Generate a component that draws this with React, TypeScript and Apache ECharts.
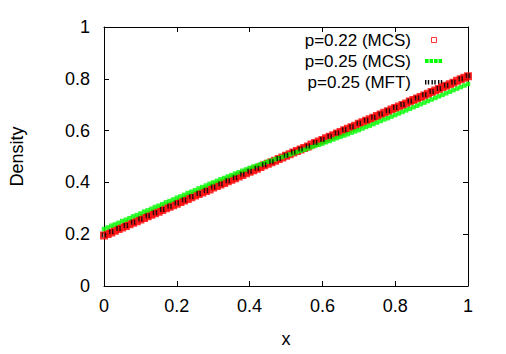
import React, { useEffect, useRef } from "react";
import * as echarts from "echarts";

// x positions (step 0.01) for the MCS curves
const xMCS: number[] = [
  0, 0.01, 0.02, 0.03, 0.04, 0.05, 0.06, 0.07, 0.08, 0.09,
  0.1, 0.11, 0.12, 0.13, 0.14, 0.15, 0.16, 0.17, 0.18, 0.19,
  0.2, 0.21, 0.22, 0.23, 0.24, 0.25, 0.26, 0.27, 0.28, 0.29,
  0.3, 0.31, 0.32, 0.33, 0.34, 0.35, 0.36, 0.37, 0.38, 0.39,
  0.4, 0.41, 0.42, 0.43, 0.44, 0.45, 0.46, 0.47, 0.48, 0.49,
  0.5, 0.51, 0.52, 0.53, 0.54, 0.55, 0.56, 0.57, 0.58, 0.59,
  0.6, 0.61, 0.62, 0.63, 0.64, 0.65, 0.66, 0.67, 0.68, 0.69,
  0.7, 0.71, 0.72, 0.73, 0.74, 0.75, 0.76, 0.77, 0.78, 0.79,
  0.8, 0.81, 0.82, 0.83, 0.84, 0.85, 0.86, 0.87, 0.88, 0.89,
  0.9, 0.91, 0.92, 0.93, 0.94, 0.95, 0.96, 0.97, 0.98, 0.99, 1,
];

// p=0.22 (MCS)
const mcs022: number[] = [
  0.195, 0.201, 0.207, 0.213, 0.22, 0.226, 0.232, 0.238, 0.244, 0.25,
  0.257, 0.263, 0.269, 0.275, 0.281, 0.287, 0.293, 0.3, 0.306, 0.312,
  0.318, 0.324, 0.33, 0.336, 0.343, 0.349, 0.355, 0.361, 0.367, 0.373,
  0.38, 0.386, 0.392, 0.398, 0.404, 0.41, 0.416, 0.423, 0.429, 0.435,
  0.441, 0.447, 0.453, 0.459, 0.466, 0.472, 0.478, 0.484, 0.49, 0.496,
  0.503, 0.509, 0.515, 0.521, 0.527, 0.533, 0.539, 0.546, 0.552, 0.558,
  0.564, 0.57, 0.576, 0.582, 0.589, 0.595, 0.601, 0.607, 0.613, 0.619,
  0.626, 0.632, 0.638, 0.644, 0.65, 0.656, 0.662, 0.669, 0.675, 0.681,
  0.687, 0.693, 0.699, 0.705, 0.712, 0.718, 0.724, 0.73, 0.736, 0.742,
  0.749, 0.755, 0.761, 0.767, 0.773, 0.779, 0.785, 0.792, 0.798, 0.804, 0.81,
];

// p=0.25 (MCS)
const mcs025: number[] = [
  0.22, 0.226, 0.233, 0.238, 0.244, 0.251, 0.256, 0.262, 0.269, 0.274,
  0.28, 0.287, 0.292, 0.298, 0.305, 0.31, 0.316, 0.323, 0.328, 0.334,
  0.341, 0.346, 0.352, 0.359, 0.364, 0.37, 0.377, 0.382, 0.388, 0.395,
  0.4, 0.406, 0.412, 0.417, 0.423, 0.428, 0.434, 0.439, 0.445, 0.45,
  0.456, 0.461, 0.465, 0.47, 0.475, 0.48, 0.484, 0.489, 0.494, 0.498,
  0.503, 0.508, 0.512, 0.517, 0.522, 0.526, 0.531, 0.536, 0.541, 0.545,
  0.55, 0.555, 0.56, 0.566, 0.571, 0.576, 0.581, 0.586, 0.592, 0.597,
  0.602, 0.608, 0.614, 0.619, 0.625, 0.631, 0.637, 0.643, 0.648, 0.654,
  0.66, 0.666, 0.672, 0.678, 0.684, 0.69, 0.696, 0.702, 0.708, 0.714,
  0.72, 0.726, 0.732, 0.738, 0.744, 0.75, 0.756, 0.762, 0.768, 0.774, 0.78,
];

// x positions (step 0.02) for MFT
const xMFT: number[] = [
  0, 0.02, 0.04, 0.06, 0.08, 0.1, 0.12, 0.14, 0.16, 0.18,
  0.2, 0.22, 0.24, 0.26, 0.28, 0.3, 0.32, 0.34, 0.36, 0.38,
  0.4, 0.42, 0.44, 0.46, 0.48, 0.5, 0.52, 0.54, 0.56, 0.58,
  0.6, 0.62, 0.64, 0.66, 0.68, 0.7, 0.72, 0.74, 0.76, 0.78,
  0.8, 0.82, 0.84, 0.86, 0.88, 0.9, 0.92, 0.94, 0.96, 0.98, 1,
];

// p=0.25 (MFT)
const mft025: number[] = [
  0.197, 0.209, 0.222, 0.234, 0.246, 0.259, 0.271, 0.283, 0.295, 0.308,
  0.32, 0.332, 0.345, 0.357, 0.369, 0.382, 0.394, 0.406, 0.418, 0.431,
  0.443, 0.455, 0.468, 0.48, 0.492, 0.505, 0.517, 0.529, 0.541, 0.554,
  0.566, 0.578, 0.591, 0.603, 0.615, 0.628, 0.64, 0.652, 0.664, 0.677,
  0.689, 0.701, 0.714, 0.726, 0.738, 0.751, 0.763, 0.775, 0.787, 0.8, 0.812,
];

const legendNames = ["p=0.22 (MCS)", "p=0.25 (MCS)", "p=0.25 (MFT)"];
const yTicks = [0, 0.2, 0.4, 0.6, 0.8, 1];

const FONT = "Liberation Sans, Arial, Helvetica, sans-serif";

export default function App() {
  const ref = useRef<HTMLDivElement>(null);
  useEffect(() => {
    document.body.style.margin = "0";
    if (!ref.current) return;
    const chart = echarts.init(ref.current, null, { renderer: "svg" });

    const pair = (xs: number[], ys: number[]) => xs.map((x, i) => [x, ys[i]]);

    const baseAxis = {
      type: "value" as const,
      min: yTicks[0],
      max: yTicks[yTicks.length - 1],
      interval: 0.2,
      splitLine: { show: false },
      axisLine: { show: true, onZero: false, lineStyle: { color: "#000", width: 1 } },
      axisTick: { show: true, inside: true, length: 5, lineStyle: { color: "#000" } },
    };

    const legendY = [40, 61, 82];
    const legendX = 411;
    const graphics: any[] = legendNames.map((n, i) => ({
      type: "text",
      x: legendX,
      y: legendY[i],
      style: {
        text: n,
        textAlign: "right",
        textVerticalAlign: "middle",
        font: `17px ${FONT}`,
        fill: "#000",
      },
    }));
    graphics.push({
      type: "rect",
      shape: { x: 431.5, y: legendY[0] - 2.5, width: 5, height: 5 },
      style: { fill: "none", stroke: "#ff0000", lineWidth: 0.8 },
    });
    [425, 429.5, 434, 438.5].forEach((gx) =>
      graphics.push({
        type: "rect",
        shape: { x: gx, y: legendY[1] - 2, width: 3.6, height: 4 },
        style: { fill: "#00ff00" },
      })
    );
    [425, 431.5, 438].forEach((bx) => {
      graphics.push({
        type: "rect",
        shape: { x: bx, y: legendY[2] - 2, width: 1.4, height: 4.5 },
        style: { fill: "#000" },
      });
      graphics.push({
        type: "rect",
        shape: { x: bx + 2.8, y: legendY[2] - 2, width: 1.4, height: 4.5 },
        style: { fill: "#000" },
      });
    });

    chart.setOption({
      animation: false,
      backgroundColor: "#fff",
      textStyle: { fontFamily: FONT },
      grid: { left: 103, right: 38, top: 27, bottom: 68, show: false },
      xAxis: [
        {
          ...baseAxis,
          position: "bottom",
          name: "x",
          nameLocation: "middle",
          nameGap: 44,
          nameTextStyle: { fontSize: 18, color: "#000", fontFamily: FONT },
          axisLabel: { fontSize: 18, color: "#000", margin: 11, fontFamily: FONT },
        },
        {
          ...baseAxis,
          position: "top",
          axisLabel: { show: false },
        },
      ],
      yAxis: [
        {
          ...baseAxis,
          position: "left",
          name: "Density",
          nameLocation: "middle",
          nameRotate: 90,
          nameGap: 78,
          nameTextStyle: { fontSize: 18, color: "#000", fontFamily: FONT },
          axisLabel: { fontSize: 18, color: "#000", margin: 14, fontFamily: FONT },
        },
        {
          ...baseAxis,
          position: "right",
          axisLabel: { show: false },
        },
      ],
      series: [
        {
          name: legendNames[0],
          type: "scatter",
          data: pair(xMCS, mcs022),
          symbol: "rect",
          symbolSize: 6,
          itemStyle: { color: "rgba(255,0,0,0.35)", borderColor: "#ff0000", borderWidth: 2 },
          silent: true,
        },
        {
          name: legendNames[1],
          type: "scatter",
          data: pair(xMCS, mcs025),
          symbol: "rect",
          symbolSize: 4.5,
          itemStyle: { color: "#00ff00" },
          silent: true,
        },
        {
          name: legendNames[2],
          type: "scatter",
          data: pair(xMFT, mft025),
          symbol: "path://M0,0h1.5v5h-1.5z M3,0h1.5v5h-1.5z",
          symbolSize: [4.5, 5],
          itemStyle: { color: "#000" },
          silent: true,
        },
      ],
      graphic: graphics,
    });
    return () => chart.dispose();
  }, []);
  return <div ref={ref} style={{ width: 506, height: 354 }} />;
}
